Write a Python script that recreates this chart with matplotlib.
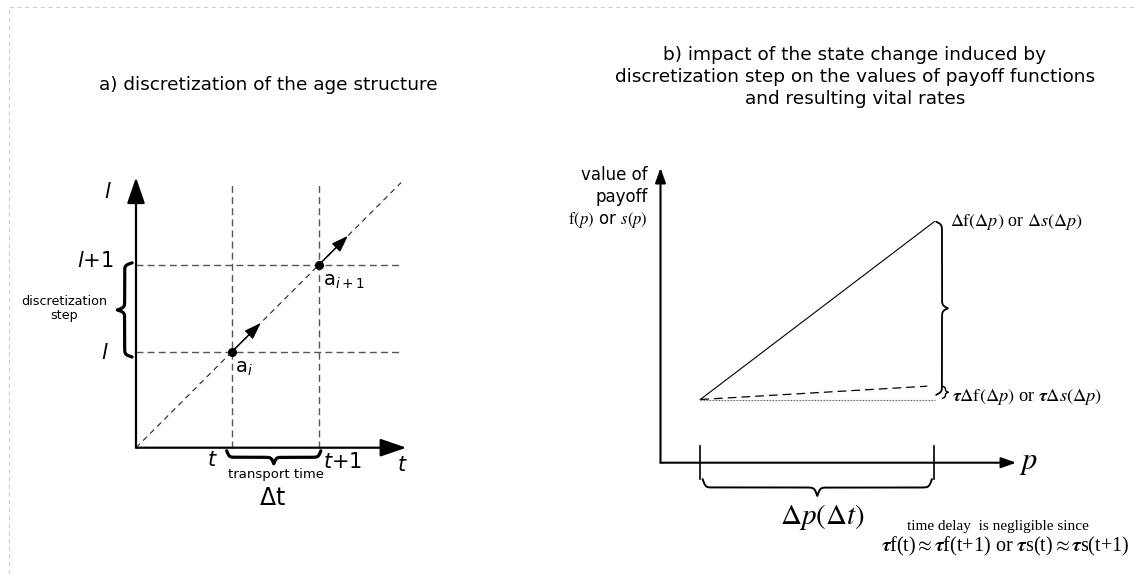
import numpy as np
import matplotlib
matplotlib.use('Agg')
import matplotlib.pyplot as plt
from matplotlib.lines import Line2D

W, H = 1137, 574

# panel a) grid of the age structure (units of one discretization step)
t_levels = [1.1, 2.1]
l_levels = [1.1, 2.1]
a_axis_end = 3.1
a_grid_end = 3.04
step_arrow = 0.33

# panel b) payoff values
p_start, p_end = 0.17, 1.17
f_start, f_end = 0.27, 1.03
tau = 0.075
b_x_end = 1.52
b_y_end = 1.26


def panel_axes(fig, origin, unit):
    # full-figure axes, data unit = `unit` pixels, data origin at pixel `origin`
    ax = fig.add_axes([0, 0, 1, 1])
    ax.set_xlim(-origin[0] / unit, (W - origin[0]) / unit)
    ax.set_ylim((origin[1] - H) / unit, origin[1] / unit)
    ax.axis('off')
    return ax


def arrow(ax, start, end, lw, hl, hw):
    ax.annotate('', xy=end, xytext=start,
                arrowprops=dict(arrowstyle=f'-|>,head_length={hl},head_width={hw}',
                                lw=lw, color='black', shrinkA=0, shrinkB=0,
                                mutation_scale=10))


def brace(ax, p0, p1, depth, curl, lw):
    # curly brace from p0 to p1, bulging to the left of the direction p0->p1
    p0 = np.array(p0, float)
    p1 = np.array(p1, float)
    v = p1 - p0
    L = np.hypot(*v)
    u = v / L
    n = np.array([-u[1], u[0]])
    k = 5.0 / curl
    s = np.linspace(0, L / 2, 300)
    h = 1 / (1 + np.exp(-k * (s - s[0]))) + 1 / (1 + np.exp(-k * (s - s[-1]))) - 0.5
    s_all = np.concatenate([s, L - s[::-1]])
    h_all = np.concatenate([h, h[::-1]])
    pts = p0 + np.outer(s_all, u) + np.outer(h_all * depth, n)
    ax.plot(pts[:, 0], pts[:, 1], color='black', lw=lw, solid_capstyle='round')


fig = plt.figure(figsize=(W / 100, H / 100), dpi=100)

# dashed frame (top and left)
frame = dict(color='#cfcfcf', lw=0.8, ls=(0, (4, 3)))
fig.add_artist(Line2D([9 / W, 1], [1 - 7 / H, 1 - 7 / H], **frame))
fig.add_artist(Line2D([9 / W, 9 / W], [0, 1 - 7 / H], **frame))

# titles
fig.text(268 / W, 1 - 85 / H, 'a) discretization of the age structure',
         ha='center', va='center', fontsize=13.3)
fig.text(855 / W, 1 - 77 / H,
         'b) impact of the state change induced by\n'
         'discretization step on the values of payoff functions\n'
         'and resulting vital rates',
         ha='center', va='center', fontsize=13.3, linespacing=1.3)

# ---------------- panel a ----------------
ax = panel_axes(fig, (136, 447.7), 87.2)
grid = dict(color='#555555', lw=1.0, ls=(0, (5, 3)))
for tv in t_levels:
    ax.plot([tv, tv], [0, a_grid_end], **grid)
for lv in l_levels:
    ax.plot([0, a_grid_end], [lv, lv], **grid)
ax.plot([0, a_grid_end], [0, a_grid_end], color='#222222', lw=0.8, ls=(0, (5, 4)))

arrow(ax, (0, 0), (0, a_axis_end), 1.6, 1.6, 0.55)
arrow(ax, (0, 0), (a_axis_end, 0), 1.6, 1.6, 0.55)

for tv, lv in zip(t_levels, l_levels):
    arrow(ax, (tv, lv), (tv + step_arrow, lv + step_arrow), 1.1, 1.0, 0.35)
    ax.plot(tv, lv, 'o', color='black', ms=5.5)

ax.text(t_levels[0] + 0.04, l_levels[0] - 0.08, r'a$_{\mathit{i}}$',
        ha='left', va='top', fontsize=14)
ax.text(t_levels[1] + 0.04, l_levels[1] - 0.08, r'a$_{\mathit{i+1}}$',
        ha='left', va='top', fontsize=14)

ax.text(-0.32, 2.93, '$l$', ha='center', va='center', fontsize=15)
ax.text(-0.26, l_levels[1] + 0.04, '$l$+1', ha='right', va='center', fontsize=15)
ax.text(-0.36, l_levels[0] - 0.01, '$l$', ha='center', va='center', fontsize=15)
ax.text(-0.82, (l_levels[0] + l_levels[1]) / 2, 'discretization\nstep',
        ha='center', va='center', fontsize=9.2, linespacing=1.1)
brace(ax, (-0.045, l_levels[0] - 0.06), (-0.045, l_levels[1] + 0.02), 0.17, 0.07, 2.3)

ax.text(t_levels[0] - 0.22, -0.14, '$t$', ha='center', va='center', fontsize=15)
ax.text(t_levels[1] + 0.27, -0.16, '$t$+1', ha='center', va='center', fontsize=15)
ax.text(a_axis_end - 0.05, -0.2, '$t$', ha='center', va='center', fontsize=15)
brace(ax, (t_levels[1] + 0.02, -0.035), (t_levels[0] - 0.06, -0.035), 0.15, 0.07, 2.3)
ax.text((t_levels[0] + t_levels[1]) / 2, -0.31, 'transport time',
        ha='center', va='center', fontsize=9.5)
ax.text((t_levels[0] + t_levels[1]) / 2 - 0.03, -0.58, r'$\Delta$t',
        ha='center', va='center', fontsize=17)

# ---------------- panel b ----------------
bx = panel_axes(fig, (660.5, 462.7), 234.0)
arrow(bx, (0, 0), (0, b_y_end), 1.5, 0.9, 0.32)
arrow(bx, (0, 0), (b_x_end, 0), 1.5, 0.9, 0.32)
for pv in [p_start, p_end]:
    bx.plot([pv, pv], [-0.068, 0.07], color='black', lw=1.2)

f_tau = f_start + tau * (f_end - f_start)
bx.plot([p_start, p_end], [f_start, f_end], color='black', lw=0.8)
bx.plot([p_start, p_end - 0.03], [f_start, f_tau], color='black', lw=0.9, ls=(0, (7, 4)))
bx.plot([p_start, p_end + 0.005], [f_start, f_start], color='#666666', lw=0.8, ls=(0, (1.5, 1.2)))

brace(bx, (p_end + 0.008, f_end), (p_end + 0.008, f_start + 0.02), 0.05, 0.03, 1.3)
brace(bx, (p_end + 0.035, f_tau), (p_end + 0.035, f_start + 0.005), 0.025, 0.012, 1.0)
brace(bx, (p_end - 0.01, -0.07), (p_start + 0.01, -0.07), 0.072, 0.03, 1.4)

serif = dict(family='Liberation Serif', math_fontfamily='stix')
bx.text(1.238, f_end, r'$\Delta\mathrm{f}(\Delta p)$ or $\Delta s(\Delta p)$',
        ha='left', va='center', fontsize=13, **serif)
bx.text(1.245, f_start + 0.01,
        r'$\mathbfit{\tau}\Delta\mathrm{f}(\Delta p)$ or $\mathbfit{\tau}\Delta s(\Delta p)$',
        ha='left', va='center', fontsize=13.2, **serif)
bx.text(b_x_end + 0.05, 0.0, '$p$', ha='center', va='center', fontsize=22, **serif)
bx.text((p_start + p_end) / 2 + 0.02, -0.23, r'$\Delta p(\Delta t)$',
        ha='center', va='center', fontsize=21, **serif)
bx.text(1.44, -0.272, 'time delay  is negligible since',
        ha='center', va='center', fontsize=11, family='Liberation Serif')
bx.text(1.475, -0.36,
        r'$\mathbfit{\tau}$f(t)$\approx\mathbfit{\tau}$f(t+1) or $\mathbfit{\tau}$s(t)$\approx\mathbfit{\tau}$s(t+1)',
        ha='center', va='center', fontsize=14.5, **serif)

bx.text(-0.053, 1.229, 'value of', ha='right', va='center', fontsize=12)
bx.text(-0.053, 1.136, 'payoff', ha='right', va='center', fontsize=12)
bx.text(-0.053, 1.037, r'$\mathrm{f}(p)$ or $s(p)$', ha='right', va='center',
        fontsize=12, math_fontfamily='stix')

fig.savefig('out.png', dpi=100)
